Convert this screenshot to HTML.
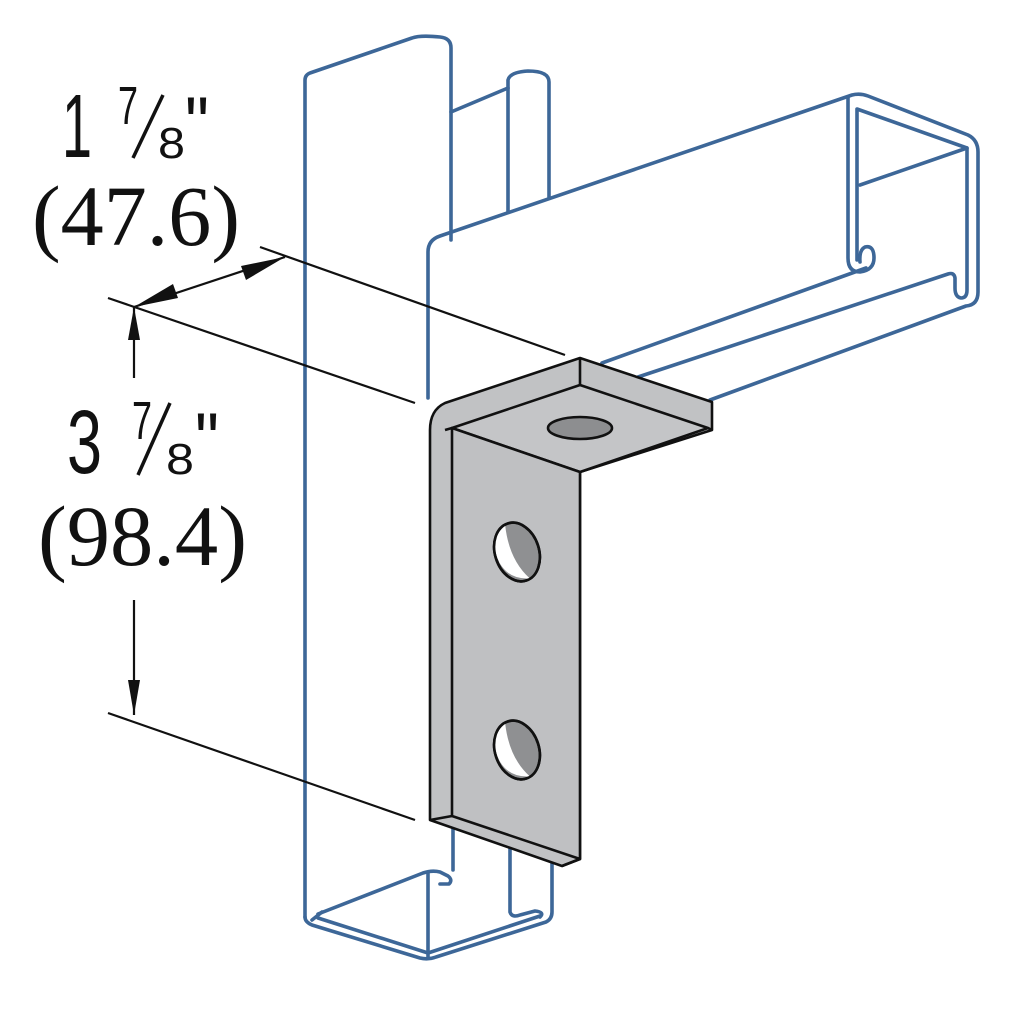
<!DOCTYPE html>
<html><head><meta charset="utf-8"><style>html,body{margin:0;padding:0;background:#fff}svg{display:block}</style></head>
<body>
<svg width="1024" height="1024" viewBox="0 0 1024 1024" xmlns="http://www.w3.org/2000/svg">
<rect width="1024" height="1024" fill="#fff"/>
<g fill="none" stroke="#3d6798" stroke-width="3.6" stroke-linejoin="round" stroke-linecap="round">
  <path d="M305,917 L305,80 Q305,75 310,73 L412,38 Q420,35 440,37 Q451,38 451,48 L451,240"/>
  <path d="M451,112 L508,88"/>
  <path d="M508,212 L508,80 Q510,72 528,71 Q549,71 549,82 L549,197"/>
  <path d="M428,398 L428,252 Q428,240 440,236 L852,95 Q860,93 868,96 L968,135 Q978,140 978,152 L978,292 Q978,305 966,306 L710,400"/>
  <path d="M848,97 L848,258 Q848,272 860,272 Q874,270 874,258 Q874,245 865,247 Q859,250 860,262"/>
  <path d="M857,260 L857,109 L967,148 L967,290 Q967,298 961,298 Q955,297 955,288 L955,278 Q954,272 948,274 L638,377"/>
  <path d="M860,185 L967,148"/>
  <path d="M866,268 L602,363"/>
  <path d="M305,917 Q305,922 312,925 L420,958 Q428,960 436,957 L546,922 Q552,919 552,912 L552,840"/>
  <path d="M318,914 L423,873 Q432,870 440,872 L448,876 Q453,880 449,884 L440,884"/>
  <path d="M318,918 L428,953 L540,916"/>
  <path d="M428,873 L428,958"/>
  <path d="M453,870 L453,820"/>
  <path d="M510,830 L510,912 Q512,918 520,915 L535,911 Q545,912 540,917"/>
  <path d="M312,920 L322,912"/>
</g>
<g stroke="#111" stroke-width="2.6" stroke-linejoin="round" fill="#c1c2c4">
  <path d="M445,403 L580,358 L712,402 L712,430 L580,472 L580,859 L562,866 L430,820 L430,430 Q430,410 445,403 Z"/>
  <path d="M452,428 L580,385 L708,428 L580,472 Z" fill="#c4c5c7"/>
  <path d="M580,358 L580,385"/>
  <path d="M712,430 L708,428"/>
  <path d="M452,428 L580,472 L580,859 L452,816 Z" fill="#bfc0c2"/>
  <path d="M430,820 L452,816 M562,866 L580,859"/>
  <path d="M452,428 L445,430" />
  <ellipse cx="580" cy="428" rx="32" ry="11" fill="#8d8e90"/>
  <g transform="translate(517,552) rotate(-18)">
    <ellipse cx="0" cy="0" rx="22" ry="30" fill="#8f9092"/>
    <path d="M-3,-29 Q-24,-20 -20,5 Q-16,24 4,29 Q-10,5 -3,-29 Z" fill="#fff" stroke="none"/>
    <ellipse cx="0" cy="0" rx="22" ry="30" fill="none"/>
  </g>
  <g transform="translate(517,750) rotate(-18)">
    <ellipse cx="0" cy="0" rx="22" ry="30" fill="#8f9092"/>
    <path d="M-3,-29 Q-24,-20 -20,5 Q-16,24 4,29 Q-10,5 -3,-29 Z" fill="#fff" stroke="none"/>
    <ellipse cx="0" cy="0" rx="22" ry="30" fill="none"/>
  </g>
</g>
<g stroke="#111" stroke-width="2.2" fill="none">
  <line x1="260" y1="247" x2="565" y2="355"/>
  <line x1="108" y1="298" x2="415" y2="403"/>
  <line x1="108" y1="713" x2="415" y2="820"/>
  <line x1="134" y1="307" x2="285" y2="257"/>
  <line x1="134" y1="307" x2="134" y2="378"/>
  <line x1="134" y1="600" x2="134" y2="715"/>
</g>
<g fill="#111">
  <polygon points="285,257 246,280 241,266"/>
  <polygon points="134,307 173,284 178,298"/>
  <polygon points="134,307 128,340 140,340"/>
  <polygon points="134,715 128,680 140,680"/>
</g>
<g font-family="Liberation Sans, sans-serif" fill="#111">
  <text x="62" y="157" font-size="90" textLength="30" lengthAdjust="spacingAndGlyphs">1</text>
  <text x="118" y="124" font-size="54" textLength="20" lengthAdjust="spacingAndGlyphs">7</text>
  <text x="158" y="158" font-size="44" textLength="27" lengthAdjust="spacingAndGlyphs">8</text>
  <line x1="133" y1="158" x2="163" y2="95" stroke="#111" stroke-width="3.5"/>
  <text x="185" y="150" font-size="76" textLength="24" lengthAdjust="spacingAndGlyphs">"</text>
  <text x="67" y="473" font-size="90" textLength="35" lengthAdjust="spacingAndGlyphs">3</text>
  <text x="132" y="439" font-size="54" textLength="20" lengthAdjust="spacingAndGlyphs">7</text>
  <text x="166" y="474" font-size="44" textLength="28" lengthAdjust="spacingAndGlyphs">8</text>
  <line x1="138" y1="475" x2="170" y2="403" stroke="#111" stroke-width="3.5"/>
  <text x="195" y="466" font-size="76" textLength="24" lengthAdjust="spacingAndGlyphs">"</text>
</g>
<g font-family="Liberation Serif, serif" font-size="86" fill="#111">
  <text x="32" y="245" textLength="208" lengthAdjust="spacingAndGlyphs">(47.6)</text>
  <text x="38" y="565" textLength="209" lengthAdjust="spacingAndGlyphs">(98.4)</text>
</g>
</svg>
</body></html>
